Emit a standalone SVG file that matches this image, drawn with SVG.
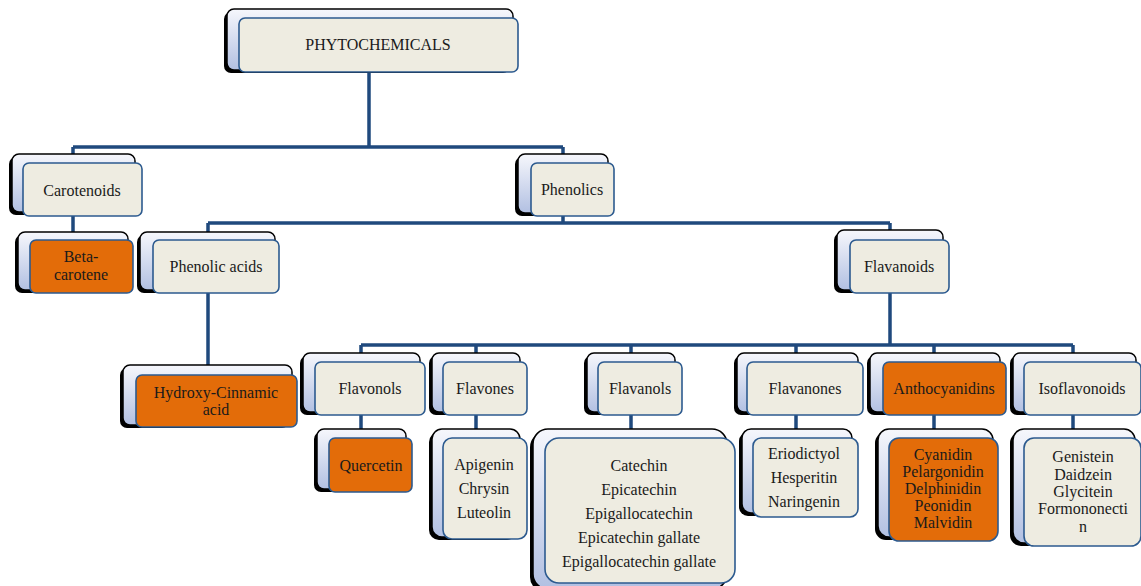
<svg xmlns="http://www.w3.org/2000/svg" width="1141" height="586" viewBox="0 0 1141 586">
<defs>
<linearGradient id="bg" x1="0" y1="0" x2="0" y2="1">
<stop offset="0" stop-color="#F6F7FC"/>
<stop offset="1" stop-color="#B2C0E2"/>
</linearGradient>
<style>
.sh{fill:#000}
.bk{fill:url(#bg);stroke:#000;stroke-width:1.5}
.fr{fill:#EEECE1;stroke:#2C5A8F;stroke-width:1.6}
.or{fill:#E36C09;stroke:#2C5A8F;stroke-width:1.6}
.cn{fill:none;stroke:#1F497D;stroke-width:3.5}
text{font-family:"Liberation Serif","Times New Roman",serif;font-size:16px;fill:#1a1a1a;text-anchor:middle}
</style>
</defs>
<rect width="1141" height="586" fill="#fff"/>
<g id="connectors">
<path class="cn" d="M369,72V147M73,147H563M73,147V154M563,147V154"/>
<path class="cn" d="M73,216V232"/>
<path class="cn" d="M563,216V223M208,223H890M208,223V232M890,223V230"/>
<path class="cn" d="M208,293V365"/>
<path class="cn" d="M890,293V345M361,345H1073M361,345V353M476,345V353M631,345V353M796,345V353M934,345V353M1073,345V353"/>
<path class="cn" d="M361,415V429M476,415V429M631,415V429M796,415V429M934,415V429M1073,415V429"/>
</g>
<g id="phytochemicals">
<rect class="sh" x="224" y="12" width="286" height="61" rx="7"/>
<rect class="bk" x="227" y="9" width="286" height="61" rx="7"/>
<rect class="fr" x="239" y="18" width="279" height="54" rx="6"/>
<text x="378" y="50">PHYTOCHEMICALS</text>
</g>
<g id="carotenoids">
<rect class="sh" x="9" y="157" width="123" height="58" rx="7"/>
<rect class="bk" x="12" y="154" width="123" height="58" rx="7"/>
<rect class="fr" x="23" y="163" width="119" height="53" rx="6"/>
<text x="82" y="196">Carotenoids</text>
</g>
<g id="phenolics">
<rect class="sh" x="515" y="157" width="90" height="59" rx="7"/>
<rect class="bk" x="518" y="154" width="90" height="59" rx="7"/>
<rect class="fr" x="531" y="163" width="83" height="53" rx="6"/>
<text x="572" y="195">Phenolics</text>
</g>
<g id="beta-carotene">
<rect class="sh" x="15" y="235" width="110" height="58" rx="7"/>
<rect class="bk" x="18" y="232" width="110" height="58" rx="7"/>
<rect class="or" x="30" y="240" width="103" height="53" rx="6"/>
<text x="81" y="262">Beta-</text>
<text x="81" y="280">carotene</text>
</g>
<g id="phenolic-acids">
<rect class="sh" x="137" y="235" width="135" height="58" rx="7"/>
<rect class="bk" x="140" y="232" width="135" height="58" rx="7"/>
<rect class="fr" x="153" y="240" width="126" height="53" rx="6"/>
<text x="216" y="272">Phenolic acids</text>
</g>
<g id="flavanoids">
<rect class="sh" x="834" y="233" width="106" height="60" rx="7"/>
<rect class="bk" x="837" y="230" width="106" height="60" rx="7"/>
<rect class="fr" x="850" y="240" width="99" height="53" rx="6"/>
<text x="899" y="272">Flavanoids</text>
</g>
<g id="hydroxy-cinnamic-acid">
<rect class="sh" x="120" y="368" width="169" height="60" rx="7"/>
<rect class="bk" x="123" y="365" width="169" height="60" rx="7"/>
<rect class="or" x="136" y="375" width="161" height="52" rx="6"/>
<text x="216" y="398">Hydroxy-Cinnamic</text>
<text x="216" y="415">acid</text>
</g>
<g id="flavonols">
<rect class="sh" x="300" y="356" width="117" height="59" rx="7"/>
<rect class="bk" x="303" y="353" width="117" height="59" rx="7"/>
<rect class="fr" x="315" y="362" width="110" height="53" rx="6"/>
<text x="370" y="394">Flavonols</text>
</g>
<g id="flavones">
<rect class="sh" x="429" y="356" width="88" height="59" rx="7"/>
<rect class="bk" x="432" y="353" width="88" height="59" rx="7"/>
<rect class="fr" x="443" y="362" width="84" height="53" rx="6"/>
<text x="485" y="394">Flavones</text>
</g>
<g id="flavanols">
<rect class="sh" x="584" y="356" width="88" height="59" rx="7"/>
<rect class="bk" x="587" y="353" width="88" height="59" rx="7"/>
<rect class="fr" x="598" y="362" width="84" height="53" rx="6"/>
<text x="640" y="394">Flavanols</text>
</g>
<g id="flavanones">
<rect class="sh" x="734" y="356" width="121" height="59" rx="7"/>
<rect class="bk" x="737" y="353" width="121" height="59" rx="7"/>
<rect class="fr" x="747" y="362" width="116" height="53" rx="6"/>
<text x="805" y="394">Flavanones</text>
</g>
<g id="anthocyanidins">
<rect class="sh" x="867" y="356" width="130" height="59" rx="7"/>
<rect class="bk" x="870" y="353" width="130" height="59" rx="7"/>
<rect class="or" x="883" y="362" width="123" height="53" rx="6"/>
<text x="944" y="394">Anthocyanidins</text>
</g>
<g id="isoflavonoids">
<rect class="sh" x="1010" y="356" width="123" height="59" rx="7"/>
<rect class="bk" x="1013" y="353" width="123" height="59" rx="7"/>
<rect class="fr" x="1024" y="362" width="117" height="53" rx="6"/>
<text x="1082" y="394">Isoflavonoids</text>
</g>
<g id="quercetin">
<rect class="sh" x="314" y="432" width="89" height="60" rx="7"/>
<rect class="bk" x="317" y="429" width="89" height="60" rx="7"/>
<rect class="or" x="329" y="438" width="83" height="54" rx="6"/>
<text x="371" y="471">Quercetin</text>
</g>
<g id="apigenin-chrysin-luteolin">
<rect class="sh" x="429" y="432" width="88" height="108" rx="10"/>
<rect class="bk" x="432" y="429" width="88" height="108" rx="10"/>
<rect class="fr" x="443" y="438" width="84" height="101" rx="9"/>
<text x="484" y="470">Apigenin</text>
<text x="484" y="494">Chrysin</text>
<text x="484" y="518">Luteolin</text>
</g>
<g id="catechins">
<rect class="sh" x="530" y="432" width="194" height="160" rx="15"/>
<rect class="bk" x="533" y="429" width="194" height="160" rx="15"/>
<rect class="fr" x="545" y="438" width="190" height="145" rx="14"/>
<text x="639" y="471">Catechin</text>
<text x="639" y="495">Epicatechin</text>
<text x="639" y="519">Epigallocatechin</text>
<text x="639" y="543">Epicatechin gallate</text>
<text x="639" y="567">Epigallocatechin gallate</text>
</g>
<g id="flavanone-list">
<rect class="sh" x="739" y="432" width="110" height="84" rx="9"/>
<rect class="bk" x="742" y="429" width="110" height="84" rx="9"/>
<rect class="fr" x="753" y="438" width="105" height="79" rx="8"/>
<text x="804" y="459">Eriodictyol</text>
<text x="804" y="483">Hesperitin</text>
<text x="804" y="507">Naringenin</text>
</g>
<g id="anthocyanidin-list">
<rect class="sh" x="875" y="432" width="115" height="108" rx="11"/>
<rect class="bk" x="878" y="429" width="115" height="108" rx="11"/>
<rect class="or" x="889" y="438" width="109" height="103" rx="10"/>
<text x="943" y="460">Cyanidin</text>
<text x="943" y="477">Pelargonidin</text>
<text x="943" y="494">Delphinidin</text>
<text x="943" y="511">Peonidin</text>
<text x="943" y="528">Malvidin</text>
</g>
<g id="isoflavonoid-list">
<rect class="sh" x="1010" y="432" width="122" height="114" rx="11"/>
<rect class="bk" x="1013" y="429" width="122" height="114" rx="11"/>
<rect class="fr" x="1024" y="438" width="117" height="108" rx="10"/>
<text x="1083" y="462">Genistein</text>
<text x="1083" y="480">Daidzein</text>
<text x="1083" y="497">Glycitein</text>
<text x="1083" y="514">Formononecti</text>
<text x="1083" y="532">n</text>
</g>
</svg>
